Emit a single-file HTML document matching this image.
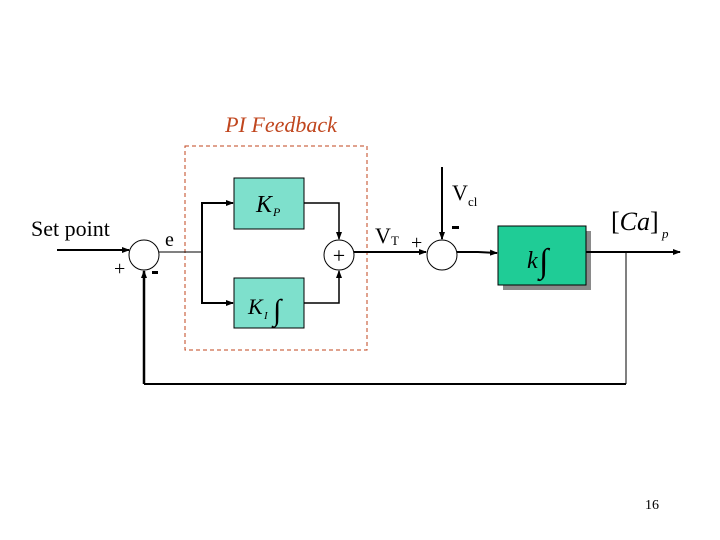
<!DOCTYPE html>
<html><head><style>
html,body{margin:0;padding:0;background:#fff;}
svg{display:block;}
text{font-family:"Liberation Serif",serif;}
</style></head><body>
<svg width="720" height="540" viewBox="0 0 720 540" xmlns="http://www.w3.org/2000/svg">
<defs>
<marker id="a" markerWidth="8" markerHeight="8" refX="7" refY="4" orient="auto" markerUnits="userSpaceOnUse">
<path d="M0,1 L8,4 L0,7 z" fill="#000"/></marker>
</defs>
<text x="281" y="132" font-size="22" font-style="italic" fill="#c0461e" text-anchor="middle">PI Feedback</text>
<rect x="185" y="146" width="182" height="204" fill="none" stroke="#c0461e" stroke-width="1" stroke-dasharray="4,3"/>
<!-- blocks -->
<rect x="234" y="178" width="70" height="51" fill="#7ee0cc" stroke="#000" stroke-width="1"/>
<text x="256" y="212" font-size="24" font-style="italic">K</text><text x="273" y="216" font-size="12" font-style="italic">P</text>
<rect x="234" y="278" width="70" height="50" fill="#7ee0cc" stroke="#000" stroke-width="1"/>
<text x="248" y="314" font-size="22" font-style="italic">K</text><text x="264" y="319" font-size="11" font-style="italic">I</text>
<text x="273" y="320" font-size="30" font-style="italic">∫</text>
<rect x="503" y="231" width="88" height="59" fill="#8a8a8a"/>
<rect x="498" y="226" width="88" height="59" fill="#1fcc96" stroke="#000" stroke-width="1"/>
<text x="527" y="268" font-size="24" font-style="italic">k</text><text x="539" y="272" font-size="34" font-style="italic">∫</text>
<!-- circles -->
<circle cx="144" cy="255" r="15" fill="#fff" stroke="#000" stroke-width="1"/>
<circle cx="339" cy="255" r="15" fill="#fff" stroke="#000" stroke-width="1"/>
<text x="339" y="263" font-size="22" text-anchor="middle">+</text>
<circle cx="442" cy="255" r="15" fill="#fff" stroke="#000" stroke-width="1"/>
<!-- lines -->
<g stroke="#000" fill="none">
<line x1="57" y1="250" x2="129" y2="250" stroke-width="2" marker-end="url(#a)"/>
<line x1="159" y1="252" x2="202" y2="252" stroke-width="1"/>
<polyline points="202,252 202,203 233,203" stroke-width="2" marker-end="url(#a)"/>
<polyline points="202,252 202,303 233,303" stroke-width="2" marker-end="url(#a)"/>
<polyline points="304,203 339,203 339,239" stroke-width="1.5" marker-end="url(#a)"/>
<polyline points="304,303 339,303 339,271" stroke-width="1.5" marker-end="url(#a)"/>
<line x1="354" y1="252" x2="426" y2="252" stroke-width="2" marker-end="url(#a)"/>
<line x1="442" y1="167" x2="442" y2="239" stroke-width="2" marker-end="url(#a)"/>
<polyline points="457,252 478,252 497,253" stroke-width="2" marker-end="url(#a)"/>
<line x1="586" y1="252" x2="680" y2="252" stroke-width="2" marker-end="url(#a)"/>
<line x1="626" y1="252" x2="626" y2="384" stroke-width="1"/>
<line x1="626" y1="384" x2="144" y2="384" stroke-width="2"/>
<line x1="144" y1="384" x2="144" y2="271" stroke-width="2.5" marker-end="url(#a)"/>
</g>
<!-- labels -->
<text x="31" y="236" font-size="22">Set point</text>
<text x="165" y="246" font-size="20">e</text>
<text x="114" y="275" font-size="20">+</text>
<rect x="152" y="271" width="6" height="3" fill="#000"/>
<text x="375" y="243" font-size="22">V</text><text x="391" y="245" font-size="13">T</text>
<text x="411" y="249" font-size="20">+</text>
<text x="452" y="200" font-size="22">V</text><text x="468" y="206" font-size="13">cl</text>
<rect x="452" y="226" width="7" height="3" fill="#000"/>
<text x="611" y="230" font-size="26">[<tspan font-style="italic">Ca</tspan>]</text><text x="662" y="238" font-size="13" font-style="italic">p</text>
<text x="652" y="509" font-size="14" text-anchor="middle">16</text>
</svg>
</body></html>
